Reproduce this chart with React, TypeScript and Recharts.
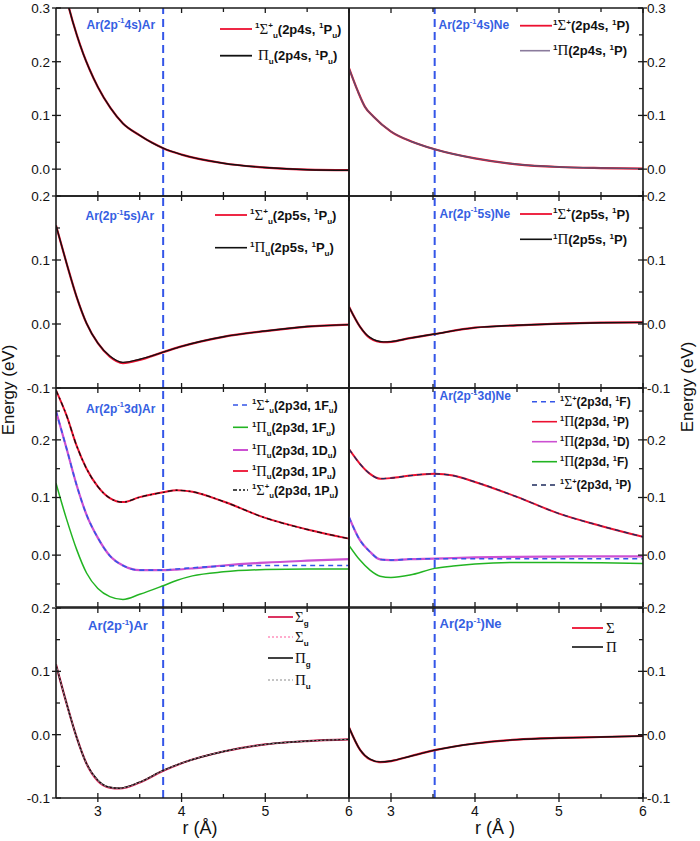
import React from 'react';
import { LineChart, Line, XAxis, YAxis, ReferenceLine } from 'recharts';

// ---------- tick values ----------
const xTicks = [3, 3.5, 4, 4.5, 5, 5.5, 6];
const yTicks4s = [0, 0.05, 0.1, 0.15, 0.2, 0.25, 0.3];
const yTicks5s = [-0.1, -0.05, 0, 0.05, 0.1, 0.15, 0.2];
const yTicks3d = [-0.05, 0, 0.05, 0.1, 0.15, 0.2, 0.25];
const yTicksIon = [-0.1, -0.05, 0, 0.05, 0.1, 0.15, 0.2];

const vlineAr = 3.78;
const vlineNe = 3.52;

// ---------- Ar(2p-1 4s)Ar ----------
const r4sAr = [2.6, 2.655, 2.75, 2.825, 2.9, 3.0, 3.15, 3.3, 3.5, 3.65, 3.78, 4.0, 4.5, 5.0, 5.5, 6.0];
const sig4sAr = [0.335, 0.3, 0.249, 0.215, 0.186, 0.153, 0.114, 0.085, 0.063, 0.049, 0.039, 0.027, 0.011, 0.003, -0.001, -0.002];
const pi4sAr = [0.335, 0.3, 0.249, 0.215, 0.186, 0.153, 0.114, 0.085, 0.063, 0.049, 0.039, 0.027, 0.011, 0.003, -0.001, -0.002];

// ---------- Ar(2p-1 4s)Ne ----------
const r4sNe = [2.5, 2.6, 2.69, 2.79, 3.0, 3.25, 3.52, 4.0, 4.5, 5.0, 5.5, 6.0];
const sig4sNe = [0.188, 0.147, 0.116, 0.098, 0.07, 0.051, 0.037, 0.02, 0.009, 0.004, 0.002, 0.001];
const pi4sNe = [0.188, 0.147, 0.116, 0.098, 0.07, 0.051, 0.037, 0.02, 0.009, 0.004, 0.002, 0.001];

// ---------- Ar(2p-1 5s)Ar ----------
const r5sAr = [2.5, 2.627, 2.746, 2.865, 3.0, 3.143, 3.3, 3.5, 3.78, 4.0, 4.5, 5.0, 5.5, 6.0];
const sig5sAr = [0.154, 0.0945, 0.0425, 0.001, -0.03, -0.051, -0.061, -0.056, -0.044, -0.035, -0.02, -0.011, -0.004, -0.001];
const pi5sAr = [0.154, 0.0945, 0.0425, 0.001, -0.03, -0.05, -0.06, -0.055, -0.044, -0.035, -0.02, -0.011, -0.004, -0.001];

// ---------- Ar(2p-1 5s)Ne ----------
const r5sNe = [2.5, 2.63, 2.75, 2.91, 3.0, 3.226, 3.52, 4.0, 4.5, 5.0, 5.5, 6.0];
const sig5sNe = [0.027, -0.004, -0.022, -0.0285, -0.028, -0.022, -0.0156, -0.0057, -0.002, 0.0005, 0.002, 0.0026];
const pi5sNe = [0.027, -0.004, -0.021, -0.028, -0.0275, -0.022, -0.0156, -0.0057, -0.002, 0.0005, 0.002, 0.0026];

// ---------- Ar(2p-1 3d)Ar ----------
const r3dAr = [2.5, 2.627, 2.746, 2.865, 3.0, 3.143, 3.3, 3.5, 3.78, 3.94, 4.13, 4.5, 5.0, 5.5, 6.0];
const sigF3dAr = [0.25, 0.1846, 0.1217, 0.07, 0.03, -0.001, -0.018, -0.026, -0.026, -0.024, -0.022, -0.019, -0.018, -0.018, -0.018];
const piF3dAr = [0.1246, 0.062, 0.01, -0.031, -0.058, -0.072, -0.077, -0.068, -0.053, -0.044, -0.036, -0.029, -0.025, -0.024, -0.024];
const piD3dAr = [0.25, 0.1846, 0.1217, 0.07, 0.03, -0.001, -0.018, -0.026, -0.026, -0.025, -0.023, -0.018, -0.013, -0.0097, -0.007];
const piP3dAr = [0.286, 0.242, 0.19, 0.15, 0.119, 0.099, 0.092, 0.1006, 0.109, 0.1126, 0.11, 0.093, 0.0646, 0.0446, 0.0286];
const sigP3dAr = [0.286, 0.242, 0.19, 0.15, 0.119, 0.099, 0.092, 0.1006, 0.109, 0.1126, 0.11, 0.093, 0.0646, 0.0446, 0.0286];

// ---------- Ar(2p-1 3d)Ne ----------
const r3dNe = [2.5, 2.63, 2.75, 2.87, 3.0, 3.226, 3.52, 3.74, 4.0, 4.5, 5.0, 5.5, 6.0];
const sigF3dNe = [0.066, 0.026, 0.0058, -0.0075, -0.0086, -0.007, -0.0063, -0.0063, -0.0063, -0.0063, -0.0063, -0.0063, -0.0063];
const piP3dNe = [0.184, 0.1585, 0.141, 0.1326, 0.1337, 0.138, 0.141, 0.138, 0.127, 0.101, 0.072, 0.0507, 0.0317];
const piD3dNe = [0.066, 0.026, 0.0058, -0.0075, -0.0086, -0.007, -0.006, -0.005, -0.004, -0.003, -0.0025, -0.002, -0.002];
const piF3dNe = [0.017, -0.0086, -0.026, -0.0365, -0.0386, -0.0346, -0.023, -0.019, -0.0156, -0.0127, -0.0127, -0.0133, -0.0144];
const sigP3dNe = [0.184, 0.1585, 0.141, 0.1326, 0.1337, 0.138, 0.141, 0.138, 0.127, 0.101, 0.072, 0.0507, 0.0317];

// ---------- Ar(2p-1)Ar ----------
const rIonAr = [2.5, 2.627, 2.746, 2.865, 3.0, 3.14, 3.26, 3.5, 3.78, 4.0, 4.5, 5.0, 5.5, 6.0];
const sigGIonAr = [0.1106, 0.049, -0.004, -0.046, -0.073, -0.0835, -0.085, -0.0755, -0.057, -0.045, -0.0266, -0.0154, -0.0101, -0.0074];
const sigUIonAr = [0.1106, 0.049, -0.004, -0.046, -0.073, -0.0835, -0.085, -0.0755, -0.057, -0.045, -0.0266, -0.0154, -0.0101, -0.0074];
const piGIonAr = [0.1106, 0.049, -0.004, -0.046, -0.072, -0.083, -0.0845, -0.075, -0.0565, -0.045, -0.0266, -0.0154, -0.0101, -0.0074];
const piUIonAr = [0.1106, 0.049, -0.004, -0.046, -0.072, -0.083, -0.0845, -0.075, -0.0565, -0.045, -0.0266, -0.0154, -0.0101, -0.0074];

// ---------- Ar(2p-1)Ne ----------
const rIonNe = [2.5, 2.63, 2.75, 2.87, 3.0, 3.23, 3.52, 4.0, 4.5, 5.0, 5.5, 6.0];
const sigIonNe = [0.0115, -0.0235, -0.039, -0.0433, -0.0417, -0.034, -0.0245, -0.014, -0.0078, -0.0052, -0.0037, -0.0021];
const piIonNe = [0.0115, -0.0235, -0.0385, -0.043, -0.0415, -0.034, -0.0245, -0.014, -0.0078, -0.0052, -0.0037, -0.0021];

// ---------- styling ----------
const SANS = "'Liberation Sans', Arial, Helvetica, sans-serif";
const SERIF = "'Liberation Serif', 'Times New Roman', serif";
const AX = '#1a1a1a';
const BLUE_LBL = '#3560e2';
const RED = '#ec1030';
const BLACK = '#111111';
const PURPLEGRAY = '#5d4f6e';
const BLUE_D = '#3456e8';
const GREEN = '#22b422';
const MAGENTA = '#cc50d2';
const NAVY = '#1e2a5c';
const PINK = '#ff5a9c';
const GRAY = '#8a8a8a';
const CRIMSON = '#d81e50';

const W = 700;
const H = 841;
const COLS = [{ l: 56, r: 349 }, { l: 349, r: 643 }];
const ROWS = [{ t: 8, b: 196 }, { t: 196, b: 388 }, { t: 388, b: 607 }, { t: 608, b: 798 }];
const AXW = 1; // axis band thickness

const isMajorY = (v: number) => Math.abs(v * 10 - Math.round(v * 10)) < 1e-6;
const isInt = (v: number) => Math.abs(v - Math.round(v)) < 1e-6;

function makeYTick(side: 'left' | 'right') {
  return (p: any) => {
    const { x, y, payload } = p;
    const v = payload.value as number;
    const maj = isMajorY(v);
    const s = side === 'left' ? 1 : -1;
    return (
      <g>
        <line x1={x - s * (maj ? 4 : 0)} x2={x + s * (maj ? 5 : 4)} y1={y} y2={y} stroke={AX} strokeWidth={1.3} />
        {maj && (
          <text
            x={side === 'left' ? x - 6 : x + 4}
            y={y}
            dy="0.36em"
            textAnchor={side === 'left' ? 'end' : 'start'}
            fontSize={13.5}
            fontFamily={SANS}
            fill="#111"
          >
            {v.toFixed(1)}
          </text>
        )}
      </g>
    );
  };
}

function makeXTick(side: 'top' | 'bottom', labels: boolean) {
  return (p: any) => {
    const { x, y, payload } = p;
    const v = payload.value as number;
    const maj = isInt(v);
    const s = side === 'top' ? 1 : -1;
    return (
      <g>
        <line x1={x} x2={x} y1={y - s * (labels && maj ? 4 : 0)} y2={y + s * (maj ? 5 : 4)} stroke={AX} strokeWidth={1.3} />
        {labels && maj && (
          <text x={x} y={y + 8} dy="0.71em" textAnchor="middle" fontSize={14} fontFamily={SANS} fill="#111">
            {String(v)}
          </text>
        )}
      </g>
    );
  };
}

type Series = { key: string; values: number[]; color: string; width: number; dash?: string };

function buildRows(r: number[], series: Series[]) {
  return r.map((rv, i) => {
    const o: any = { r: rv };
    series.forEach((s) => {
      o[s.key] = s.values[i];
    });
    return o;
  });
}

type PanelProps = {
  col: number;
  row: number;
  r: number[];
  series: Series[];
  yDomain: [number, number];
  yTicks: number[];
  vline: number;
  xLabels: boolean;
};

const axisLine = { stroke: AX, strokeWidth: 1.6 };

function Panel({ col, row, r, series, yDomain, yTicks, vline, xLabels }: PanelProps) {
  const c = COLS[col];
  const rr = ROWS[row];
  const margin = { top: rr.t - AXW, bottom: H - rr.b - AXW, left: c.l - AXW, right: W - c.r - AXW };
  const data = buildRows(r, series);
  return (
    <div style={{ position: 'absolute', left: 0, top: 0 }}>
      <LineChart width={W} height={H} data={data} margin={margin}>
        <XAxis
          xAxisId="b"
          dataKey="r"
          type="number"
          domain={[2.5, 6]}
          allowDataOverflow
          ticks={xTicks}
          interval={0}
          height={AXW}
          tickSize={0}
          tickMargin={0}
          tickLine={false}
          axisLine={axisLine}
          orientation="bottom"
          tick={makeXTick('bottom', xLabels)}
        />
        <XAxis
          xAxisId="t"
          dataKey="r"
          type="number"
          domain={[2.5, 6]}
          allowDataOverflow
          ticks={xTicks}
          interval={0}
          height={AXW}
          tickSize={0}
          tickMargin={0}
          tickLine={false}
          axisLine={axisLine}
          orientation="top"
          tick={makeXTick('top', false)}
        />
        <YAxis
          yAxisId="l"
          type="number"
          domain={yDomain}
          allowDataOverflow
          ticks={yTicks}
          interval={0}
          width={AXW}
          tickSize={0}
          tickMargin={0}
          tickLine={false}
          axisLine={axisLine}
          orientation="left"
          tick={col === 0 ? makeYTick('left') : false}
        />
        <YAxis
          yAxisId="r"
          type="number"
          domain={yDomain}
          allowDataOverflow
          ticks={yTicks}
          interval={0}
          width={AXW}
          tickSize={0}
          tickMargin={0}
          tickLine={false}
          axisLine={axisLine}
          orientation="right"
          tick={col === 1 ? makeYTick('right') : false}
        />
        <ReferenceLine
          xAxisId="b"
          yAxisId="l"
          x={vline}
          stroke={BLUE_D}
          strokeWidth={2}
          strokeDasharray="8 5"
        />
        {series.map((s) => (
          <Line
            key={s.key}
            xAxisId="b"
            yAxisId="l"
            dataKey={s.key}
            stroke={s.color}
            strokeWidth={s.width}
            strokeDasharray={s.dash}
            dot={false}
            activeDot={false}
            type="monotone"
            isAnimationActive={false}
          />
        ))}
      </LineChart>
    </div>
  );
}

// ---------- rich text ----------
type Seg = [string, 'n' | 'p' | 'b' | 'g'];

function Rich({ x, y, segs, size, fill, weight = 'bold' }: { x: number; y: number; segs: Seg[]; size: number; fill: string; weight?: string }) {
  let cur = 0;
  return (
    <text x={x} y={y} fontSize={size} fontFamily={SANS} fontWeight={weight} fill={fill}>
      {segs.map(([t, k], i) => {
        const target = k === 'p' ? -size * 0.42 : k === 'b' ? size * 0.3 : 0;
        const dy = target - cur;
        cur = target;
        const fs = k === 'p' || k === 'b' ? size * 0.62 : k === 'g' ? size * 1.15 : size;
        return (
          <tspan key={i} dy={dy} fontSize={fs} fontFamily={k === 'g' ? SERIF : SANS} fontWeight={k === 'g' ? 'normal' : weight}>
            {t}
          </tspan>
        );
      })}
    </text>
  );
}

function LegItem({ x1, x2, y, color, width, dash, tx, segs, size = 13 }: { x1: number; x2: number; y: number; color: string; width: number; dash?: string; tx: number; segs: Seg[]; size?: number }) {
  return (
    <g>
      <line x1={x1} x2={x2} y1={y} y2={y} stroke={color} strokeWidth={width} strokeDasharray={dash} />
      <Rich x={tx} y={y + size * 0.36} segs={segs} size={size} fill="#111" />
    </g>
  );
}

const title = (x: number, y: number, a: string, b: string, size = 12) => (
  <Rich x={x} y={y} size={size} fill={BLUE_LBL} segs={[[`Ar(2p`, 'n'], ['-1', 'p'], [`${a})${b}`, 'n']]} />
);

export default function App() {
  return (
    <div style={{ position: 'absolute', left: 0, top: 0, width: W, height: H, background: '#fff' }}>
      <Panel
        col={0}
        row={0}
        r={r4sAr}
        yDomain={[-0.05, 0.3]}
        yTicks={yTicks4s}
        vline={vlineAr}
        xLabels={false}
        series={[
          { key: 'sig', values: sig4sAr, color: RED, width: 2.2 },
          { key: 'pi', values: pi4sAr, color: BLACK, width: 1.4 },
        ]}
      />
      <Panel
        col={1}
        row={0}
        r={r4sNe}
        yDomain={[-0.05, 0.3]}
        yTicks={yTicks4s}
        vline={vlineNe}
        xLabels={false}
        series={[
          { key: 'sig', values: sig4sNe, color: RED, width: 2.2 },
          { key: 'pi', values: pi4sNe, color: PURPLEGRAY, width: 1.4 },
        ]}
      />
      <Panel
        col={0}
        row={1}
        r={r5sAr}
        yDomain={[-0.1, 0.2]}
        yTicks={yTicks5s}
        vline={vlineAr}
        xLabels={false}
        series={[
          { key: 'sig', values: sig5sAr, color: RED, width: 2.2 },
          { key: 'pi', values: pi5sAr, color: BLACK, width: 1.4 },
        ]}
      />
      <Panel
        col={1}
        row={1}
        r={r5sNe}
        yDomain={[-0.1, 0.2]}
        yTicks={yTicks5s}
        vline={vlineNe}
        xLabels={false}
        series={[
          { key: 'sig', values: sig5sNe, color: RED, width: 2.2 },
          { key: 'pi', values: pi5sNe, color: BLACK, width: 1.4 },
        ]}
      />
      <Panel
        col={0}
        row={2}
        r={r3dAr}
        yDomain={[-0.09, 0.29]}
        yTicks={yTicks3d}
        vline={vlineAr}
        xLabels={false}
        series={[
          { key: 'piD', values: piD3dAr, color: MAGENTA, width: 2.2 },
          { key: 'sigF', values: sigF3dAr, color: BLUE_D, width: 1.6, dash: '5 4' },
          { key: 'piF', values: piF3dAr, color: GREEN, width: 1.5 },
          { key: 'piP', values: piP3dAr, color: RED, width: 2 },
          { key: 'sigP', values: sigP3dAr, color: BLACK, width: 1.3, dash: '5 3 2 3' },
        ]}
      />
      <Panel
        col={1}
        row={2}
        r={r3dNe}
        yDomain={[-0.09, 0.29]}
        yTicks={yTicks3d}
        vline={vlineNe}
        xLabels={false}
        series={[
          { key: 'piD', values: piD3dNe, color: MAGENTA, width: 2.2 },
          { key: 'sigF', values: sigF3dNe, color: BLUE_D, width: 1.6, dash: '5 4' },
          { key: 'piF', values: piF3dNe, color: GREEN, width: 1.5 },
          { key: 'piP', values: piP3dNe, color: RED, width: 2 },
          { key: 'sigP', values: sigP3dNe, color: NAVY, width: 1.3, dash: '5 4' },
        ]}
      />
      <Panel
        col={0}
        row={3}
        r={rIonAr}
        yDomain={[-0.1, 0.2]}
        yTicks={yTicksIon}
        vline={vlineAr}
        xLabels={true}
        series={[
          { key: 'sigG', values: sigGIonAr, color: CRIMSON, width: 2.2 },
          { key: 'sigU', values: sigUIonAr, color: PINK, width: 1.2, dash: '2 2' },
          { key: 'piG', values: piGIonAr, color: BLACK, width: 1.4 },
          { key: 'piU', values: piUIonAr, color: GRAY, width: 1.1, dash: '2 2' },
        ]}
      />
      <Panel
        col={1}
        row={3}
        r={rIonNe}
        yDomain={[-0.1, 0.2]}
        yTicks={yTicksIon}
        vline={vlineNe}
        xLabels={true}
        series={[
          { key: 'sig', values: sigIonNe, color: RED, width: 2.2 },
          { key: 'pi', values: piIonNe, color: BLACK, width: 1.4 },
        ]}
      />

      <svg width={W} height={H} style={{ position: 'absolute', left: 0, top: 0, pointerEvents: 'none' }}>
        {/* axis titles */}
        <text x={14} y={390} transform="rotate(-90 14 390)" textAnchor="middle" fontSize={17} fontFamily={SANS} fill="#111">
          Energy (eV)
        </text>
        <text x={693} y={387} transform="rotate(-90 693 387)" textAnchor="middle" fontSize={17} fontFamily={SANS} fill="#111">
          Energy (eV)
        </text>
        <text x={200} y={834} textAnchor="middle" fontSize={18} fontFamily={SANS} fill="#111">
          r (Å)
        </text>
        <text x={495} y={834} textAnchor="middle" fontSize={18} fontFamily={SANS} fill="#111">
          r (Å )
        </text>

        {/* panel titles */}
        {title(86.5, 28.5, '4s', 'Ar')}
        {title(438.5, 29, '4s', 'Ne')}
        {title(85.5, 220, '5s', 'Ar')}
        {title(439.5, 217.5, '5s', 'Ne')}
        {title(86, 412.5, '3d', 'Ar')}
        {title(439.5, 400, '3d', 'Ne')}
        <Rich x={88} y={630} size={13} fill={BLUE_LBL} segs={[['Ar(2p', 'n'], ['-1', 'p'], [')Ar', 'n']]} />
        <Rich x={439.5} y={628} size={13} fill={BLUE_LBL} segs={[['Ar(2p', 'n'], ['-1', 'p'], [')Ne', 'n']]} />

        {/* row 1 legends */}
        <LegItem x1={220} x2={252} y={29} color={RED} width={1.8} tx={255}
          segs={[['1', 'p'], ['Σ', 'g'], ['+', 'p'], ['u', 'b'], ['(2p4s, ', 'n'], ['1', 'p'], ['P', 'n'], ['u', 'b'], [')', 'n']]} />
        <LegItem x1={220} x2={252} y={55.7} color={BLACK} width={1.8} tx={258}
          segs={[['Π', 'g'], ['u', 'b'], ['(2p4s, ', 'n'], ['1', 'p'], ['P', 'n'], ['u', 'b'], [')', 'n']]} />
        <LegItem x1={520} x2={552} y={25.7} color={RED} width={1.8} tx={553}
          segs={[['1', 'p'], ['Σ', 'g'], ['+', 'p'], ['(2p4s, ', 'n'], ['1', 'p'], ['P', 'n'], [')', 'n']]} />
        <LegItem x1={520} x2={550} y={50.7} color="#8a7b9c" width={1.6} tx={553}
          segs={[['1', 'p'], ['Π', 'g'], ['(2p4s, ', 'n'], ['1', 'p'], ['P', 'n'], [')', 'n']]} />

        {/* row 2 legends */}
        <LegItem x1={215} x2={247} y={215} color={RED} width={1.8} tx={250}
          segs={[['1', 'p'], ['Σ', 'g'], ['+', 'p'], ['u', 'b'], ['(2p5s, ', 'n'], ['1', 'p'], ['P', 'n'], ['u', 'b'], [')', 'n']]} />
        <LegItem x1={215} x2={247} y={247.7} color={BLACK} width={1.6} tx={250}
          segs={[['1', 'p'], ['Π', 'g'], ['u', 'b'], ['(2p5s, ', 'n'], ['1', 'p'], ['P', 'n'], ['u', 'b'], [')', 'n']]} />
        <LegItem x1={520} x2={552} y={214} color={RED} width={1.8} tx={553}
          segs={[['1', 'p'], ['Σ', 'g'], ['+', 'p'], ['(2p5s, ', 'n'], ['1', 'p'], ['P', 'n'], [')', 'n']]} />
        <LegItem x1={520} x2={552} y={239.3} color={BLACK} width={1.6} tx={553}
          segs={[['1', 'p'], ['Π', 'g'], ['(2p5s, ', 'n'], ['1', 'p'], ['P', 'n'], [')', 'n']]} />

        {/* row 3 left legend */}
        <LegItem x1={233} x2={248} y={405} color={BLUE_D} width={1.6} dash="5 4" tx={252} size={12.5}
          segs={[['1', 'p'], ['Σ', 'g'], ['+', 'p'], ['u', 'b'], ['(2p3d, 1F', 'n'], ['u', 'b'], [')', 'n']]} />
        <LegItem x1={233} x2={248} y={427.3} color={GREEN} width={1.6} tx={252} size={12.5}
          segs={[['1', 'p'], ['Π', 'g'], ['u', 'b'], ['(2p3d, 1F', 'n'], ['u', 'b'], [')', 'n']]} />
        <LegItem x1={233} x2={248} y={450} color={MAGENTA} width={2} tx={252} size={12.5}
          segs={[['1', 'p'], ['Π', 'g'], ['u', 'b'], ['(2p3d, 1D', 'n'], ['u', 'b'], [')', 'n']]} />
        <LegItem x1={233} x2={248} y={471} color={RED} width={1.8} tx={252} size={12.5}
          segs={[['1', 'p'], ['Π', 'g'], ['u', 'b'], ['(2p3d, 1P', 'n'], ['u', 'b'], [')', 'n']]} />
        <LegItem x1={233} x2={248} y={490} color={BLACK} width={1.4} dash="4 2 2 2 2 2" tx={252} size={12.5}
          segs={[['1', 'p'], ['Σ', 'g'], ['+', 'p'], ['u', 'b'], ['(2p3d, 1P', 'n'], ['u', 'b'], [')', 'n']]} />

        {/* row 3 right legend */}
        <LegItem x1={532} x2={557} y={401.7} color={BLUE_D} width={1.6} dash="5 4" tx={560} size={12}
          segs={[['1', 'p'], ['Σ', 'g'], ['+', 'p'], ['(2p3d, ', 'n'], ['1', 'p'], ['F', 'n'], [')', 'n']]} />
        <LegItem x1={532} x2={557} y={421.7} color={RED} width={1.6} tx={560} size={12}
          segs={[['1', 'p'], ['Π', 'g'], ['(2p3d, ', 'n'], ['1', 'p'], ['P', 'n'], [')', 'n']]} />
        <LegItem x1={532} x2={557} y={441.7} color={MAGENTA} width={1.6} tx={560} size={12}
          segs={[['1', 'p'], ['Π', 'g'], ['(2p3d, ', 'n'], ['1', 'p'], ['D', 'n'], [')', 'n']]} />
        <LegItem x1={532} x2={557} y={461.7} color={GREEN} width={1.6} tx={560} size={12}
          segs={[['1', 'p'], ['Π', 'g'], ['(2p3d, ', 'n'], ['1', 'p'], ['F', 'n'], [')', 'n']]} />
        <LegItem x1={532} x2={557} y={485} color={NAVY} width={1.6} dash="5 4" tx={560} size={12}
          segs={[['1', 'p'], ['Σ', 'g'], ['+', 'p'], ['(2p3d, ', 'n'], ['1', 'p'], ['P', 'n'], [')', 'n']]} />

        {/* row 4 legends */}
        <LegItem x1={268} x2={293} y={617} color={CRIMSON} width={1.8} tx={295} size={13}
          segs={[['Σ', 'g'], ['g', 'b']]} />
        <LegItem x1={268} x2={293} y={637} color={PINK} width={1.2} dash="2 2" tx={295} size={13}
          segs={[['Σ', 'g'], ['u', 'b']]} />
        <LegItem x1={268} x2={293} y={658} color={BLACK} width={1.6} tx={295} size={13}
          segs={[['Π', 'g'], ['g', 'b']]} />
        <LegItem x1={268} x2={293} y={680} color={GRAY} width={1.2} dash="2 2" tx={295} size={13}
          segs={[['Π', 'g'], ['u', 'b']]} />
        <LegItem x1={572} x2={603} y={628} color={RED} width={1.8} tx={606} size={13}
          segs={[['Σ', 'g']]} />
        <LegItem x1={572} x2={603} y={647} color={BLACK} width={1.6} tx={606} size={13}
          segs={[['Π', 'g']]} />
      </svg>
    </div>
  );
}
